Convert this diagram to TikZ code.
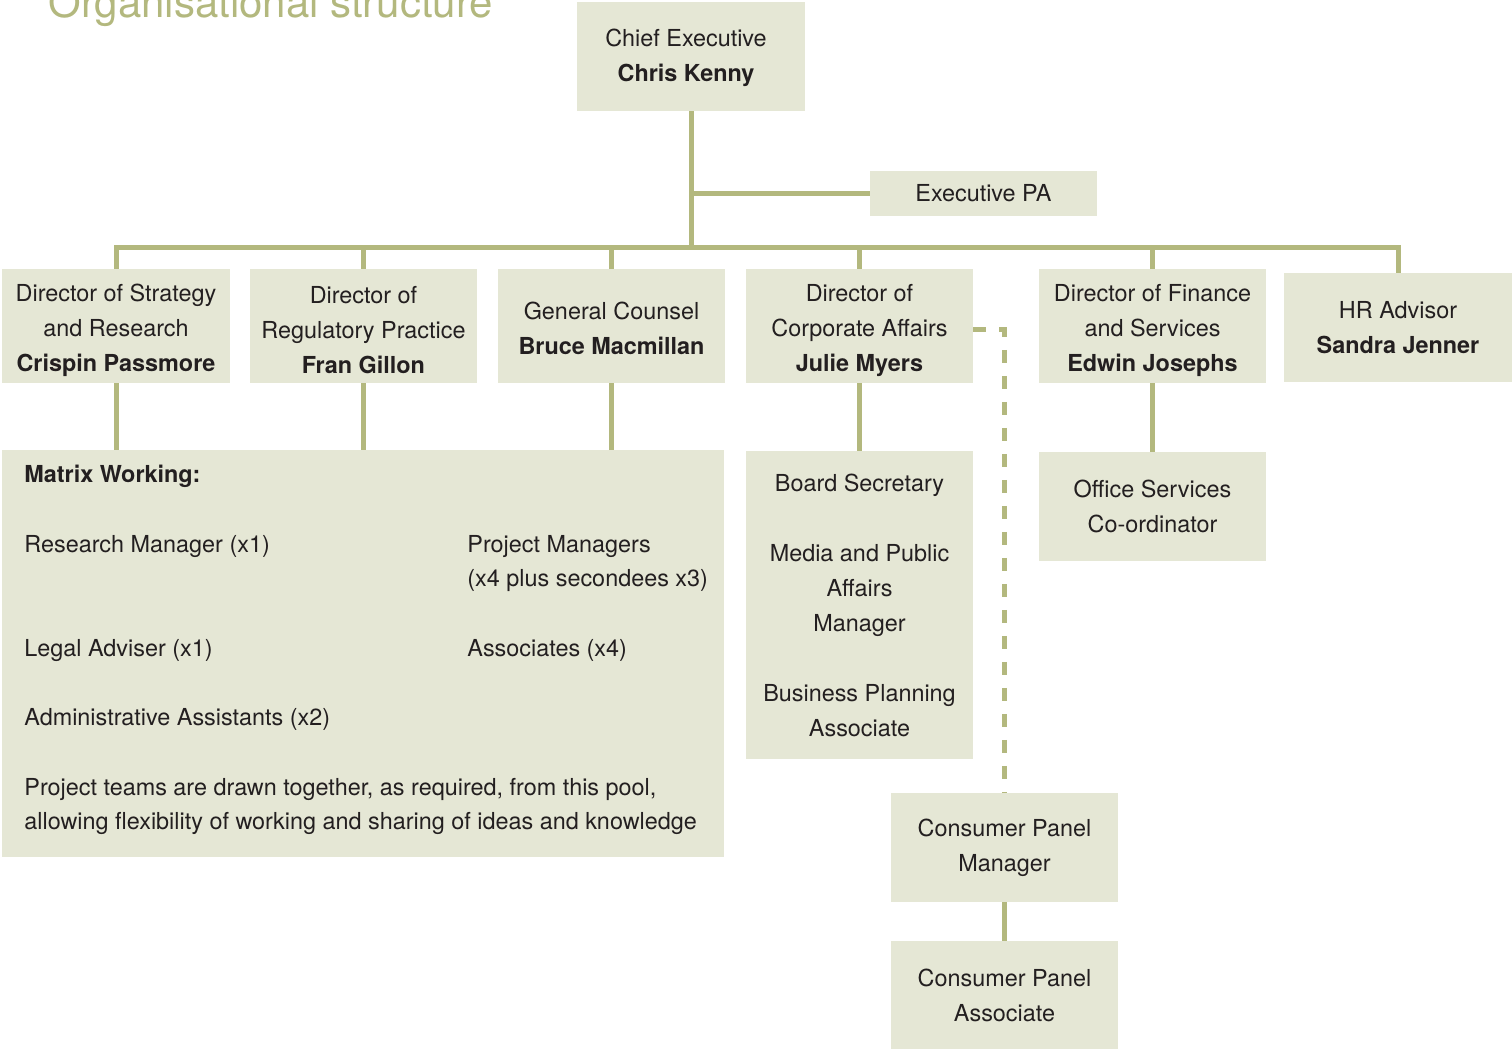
\documentclass[tikz,border=0pt]{standalone}
\usepackage{fontspec}
\setmainfont{TeX Gyre Heros}
\definecolor{boxfill}{HTML}{E5E7D5}
\definecolor{lineC}{HTML}{B3B87E}
\definecolor{txt}{HTML}{231F20}
\newcommand{\topgap}[1]{\rule{0pt}{#1}}
\begin{document}
\begin{tikzpicture}[x=0.5pt,y=-0.5pt,
  every node/.style={text=txt, font=\fontsize{11.7pt}{17.5pt}\selectfont},
  orgbox/.style={fill=boxfill, inner sep=0pt, align=center, minimum width=114pt, minimum height=54.5pt},
  link/.style={draw=lineC, line width=2.5pt},
  dlink/.style={draw=lineC, line width=2.5pt, dash pattern=on 6.5pt off 6.5pt},
  ltxt/.style={anchor=base west, inner sep=0pt}
]
\clip (0,0) rectangle (1512,1050);
\useasboundingbox (0,0) rectangle (1512,1050);

% title
\node[anchor=base west, inner sep=0pt, text=lineC, font=\fontsize{21pt}{24pt}\selectfont] (title) at (48,17) {Organisational structure};

% boxes
\node[orgbox] (ce) at (691,56.5) {\topgap{10.5pt}Chief Executive\hspace*{5pt}\\\textbf{Chris Kenny}\hspace*{5pt}};
\node[orgbox, minimum width=113.5pt, minimum height=22.5pt] (pa) at (983.5,193.5) {Executive PA};

\node[orgbox, minimum height=57pt] (d1) at (116,326) {\topgap{13pt}Director of Strategy\\and Research\\\textbf{Crispin Passmore}};
\node[orgbox, minimum width=113.5pt, minimum height=57pt] (d2) at (363.5,326) {\topgap{13pt}Director of\\Regulatory Practice\\\textbf{Fran Gillon}};
\node[orgbox, minimum width=113.5pt, minimum height=57pt] (d3) at (611.5,326) {\topgap{11pt}General Counsel\\\textbf{Bruce Macmillan}};
\node[orgbox, minimum width=113.5pt, minimum height=57pt] (d4) at (859.5,326) {\topgap{13pt}Director of\\Corporate Affairs\\\textbf{Julie Myers}};
\node[orgbox, minimum width=113.5pt, minimum height=57pt] (d5) at (1152.5,326) {\topgap{13pt}Director of Finance\\and Services\\\textbf{Edwin Josephs}};
\node[orgbox, minimum height=54.5pt] (hr) at (1398,327.5) {HR Advisor\\\textbf{Sandra Jenner}};

\node[orgbox, minimum width=361pt, minimum height=203.5pt] (mx) at (363,653.5) {};
\node[orgbox, minimum width=113.5pt, minimum height=154pt] (bs) at (859.5,605) {Board Secretary\\[17.5pt]Media and Public\\Affairs\\Manager\\[17.5pt]Business Planning\\Associate};
\node[orgbox, minimum width=113.5pt] (os) at (1152.5,506.5) {Office Services\\Co-ordinator};
\node[orgbox, minimum width=113.5pt] (cpm) at (1004.5,847.5) {Consumer Panel\\Manager};
\node[orgbox, minimum width=113.5pt, minimum height=54pt] (cpa) at (1004.5,995) {Consumer Panel\\Associate};

% matrix texts
\node[ltxt] (m1) at (24,482) {\textbf{Matrix Working:}};
\node[ltxt] (m2) at (24,552) {Research Manager (x1)};
\node[ltxt] (m3) at (467,552) {Project Managers};
\node[ltxt] (m4) at (467,586) {(x4 plus secondees x3)};
\node[ltxt] (m5) at (24,656) {Legal Adviser (x1)};
\node[ltxt] (m6) at (467,656) {Associates (x4)};
\node[ltxt] (m7) at (24,725) {Administrative Assistants (x2)};
\node[ltxt] (m8) at (24,795) {Project teams are drawn together, as required, from this pool,};
\node[ltxt] (m9) at (24,829) {allowing flexibility of working and sharing of ideas and knowledge};

% connectors
\coordinate (barL) at (116,247.5);
\coordinate (barR) at (1398,247.5);
\draw[link] (ce.south) -- (ce.south |- barL);
\draw[link] (ce.south |- pa.west) -- (pa.west);
\draw[link, line cap=rect] (barL) -- (barR);
\foreach \n in {d1,d2,d3,d4,d5}{
  \draw[link] (\n.north |- barL) -- (\n.north);
}
\draw[link] (barR) -- (hr.north);
\draw[link] (d1.south) -- (d1.south |- mx.north);
\draw[link] (d2.south) -- (d2.south |- mx.north);
\draw[link] (d3.south) -- (d3.south |- mx.north);
\draw[link] (d4.south) -- (bs.north);
\draw[link] (d5.south) -- (os.north);
\draw[link] (cpm.south) -- (cpa.north);
\draw[dlink] ([yshift=-1.5pt]d4.east) -| (cpm.north);
\end{tikzpicture}
\end{document}
